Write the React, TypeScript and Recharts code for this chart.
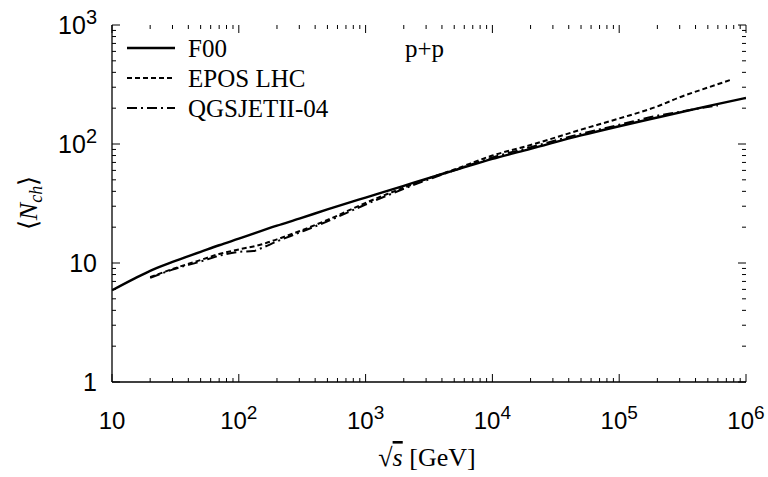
import { LineChart, Line, XAxis, YAxis } from "recharts";

// sqrt(s) [GeV] and <N_ch> for each model
const f00X = [10, 15, 20, 30, 50, 70, 100, 200, 300, 500, 1000, 2000, 3000, 5000, 1e4, 2e4, 5e4, 1e5, 2e5, 5e5, 1e6];
const f00Y = [5.9, 7.4, 8.6, 10.2, 12.4, 14.1, 16.0, 20.6, 23.6, 28.2, 35.5, 44.5, 51, 60, 75, 91, 118, 141, 167, 208, 244];

const eposX = [20, 30, 50, 70, 100, 150, 200, 300, 500, 1000, 2000, 3000, 5000, 1e4, 2e4, 5e4, 1e5, 2e5, 3e5, 5e5, 7.7e5];
const eposY = [7.6, 8.9, 10.6, 11.9, 13.0, 14.3, 15.8, 18.5, 23, 32, 43, 50.5, 61, 80, 98, 132, 164, 207, 247, 298, 348];

const qgsX = [20, 30, 50, 70, 100, 130, 150, 200, 300, 500, 1000, 2000, 3000, 5000, 1e4, 2e4, 5e4, 1e5, 2e5, 3e5, 4e5, 6e5];
const qgsY = [7.5, 8.8, 10.3, 11.5, 12.4, 12.6, 13.3, 15.2, 18.0, 22.4, 31, 42, 49.5, 60, 77, 94, 122, 145, 173, 186, 197, 211];

const xMajor = [10, 100, 1000, 1e4, 1e5, 1e6];
const xLabelExp = ["", "2", "3", "4", "5", "6"];
const yMajor = [1, 10, 100, 1000];
const yLabelExp = ["", "", "2", "3"];

const seriesNames = ["F00", "EPOS LHC", "QGSJETII-04"];

const W = 768;
const H = 477;
const TOP = 25;
const BOTTOM = 382;
const LEFT = 112;
const RIGHT = 746;

const SANS = "'Liberation Sans', Arial, sans-serif";
const SERIF = "'Liberation Serif', 'Times New Roman', serif";

function minorTicks(majors: number[]) {
  const out: number[] = [];
  for (let i = 0; i < majors.length - 1; i++) {
    for (let k = 2; k <= 9; k++) out.push(majors[i] * k);
  }
  return out;
}

const xTicks = [...xMajor, ...minorTicks(xMajor)];
const yTicks = [...yMajor, ...minorTicks(yMajor)];

const toPoints = (xs: number[], ys: number[]) => xs.map((x, i) => ({ x, y: ys[i] }));

function XTick(props: any) {
  const { x, payload } = props;
  const idx = xMajor.indexOf(payload.value);
  const len = idx >= 0 ? 8 : 4;
  return (
    <g>
      <line x1={x} x2={x} y1={BOTTOM} y2={BOTTOM - len} stroke="#000" strokeWidth={1} />
      <line x1={x} x2={x} y1={TOP} y2={TOP + len} stroke="#000" strokeWidth={1} />
      {idx >= 0 && (
        <text x={x} y={429} textAnchor="middle" fontFamily={SANS} fontSize={24} fill="#000">
          10
          {xLabelExp[idx] && (
            <tspan dy={-10} fontSize={19}>
              {xLabelExp[idx]}
            </tspan>
          )}
        </text>
      )}
    </g>
  );
}

function YTick(props: any) {
  const { y, payload } = props;
  const idx = yMajor.indexOf(payload.value);
  const len = idx >= 0 ? 8 : 4;
  let label: any = null;
  if (idx >= 0) {
    label = (
      <text x={97} y={y + 8.5} textAnchor="end" fontFamily={SANS} fontSize={25} fill="#000">
        {yLabelExp[idx] ? "10" : String(payload.value)}
        {yLabelExp[idx] && (
          <tspan dy={-10} fontSize={20}>
            {yLabelExp[idx]}
          </tspan>
        )}
      </text>
    );
  }
  return (
    <g>
      <line x1={LEFT} x2={LEFT + len} y1={y} y2={y} stroke="#000" strokeWidth={1} />
      <line x1={RIGHT} x2={RIGHT - len} y1={y} y2={y} stroke="#000" strokeWidth={1} />
      {label}
    </g>
  );
}

const dashes = ["", "5 3", "10 4 2 4"];

export default function App() {
  return (
    <div style={{ position: "absolute", left: 0, top: 0, width: W, height: H, background: "#fff" }}>
      <LineChart width={W} height={H} margin={{ top: TOP, right: W - RIGHT, left: 0, bottom: 0 }}>
        <XAxis
          dataKey="x"
          type="number"
          scale="log"
          domain={[10, 1e6]}
          allowDataOverflow
          ticks={xTicks}
          interval={0}
          height={H - BOTTOM}
          tickLine={false}
          axisLine={{ stroke: "#000", strokeWidth: 1.3 }}
          tick={<XTick />}
        />
        <XAxis
          xAxisId="top"
          orientation="top"
          type="number"
          scale="log"
          domain={[10, 1e6]}
          height={0}
          tick={false}
          tickLine={false}
          axisLine={{ stroke: "#000", strokeWidth: 1.3 }}
        />
        <YAxis
          dataKey="y"
          type="number"
          scale="log"
          domain={[1, 1000]}
          allowDataOverflow
          ticks={yTicks}
          interval={0}
          width={LEFT}
          tickLine={false}
          axisLine={{ stroke: "#000", strokeWidth: 1.3 }}
          tick={<YTick />}
        />
        <YAxis
          yAxisId="right"
          orientation="right"
          type="number"
          scale="log"
          domain={[1, 1000]}
          width={0}
          tick={false}
          tickLine={false}
          axisLine={{ stroke: "#000", strokeWidth: 1.3 }}
        />
        <Line
          data={toPoints(f00X, f00Y)}
          dataKey="y"
          name={seriesNames[0]}
          type="monotone"
          stroke="#000"
          strokeWidth={2.4}
          dot={false}
          isAnimationActive={false}
        />
        <Line
          data={toPoints(eposX, eposY)}
          dataKey="y"
          name={seriesNames[1]}
          type="monotone"
          stroke="#000"
          strokeWidth={2}
          strokeDasharray={dashes[1]}
          dot={false}
          isAnimationActive={false}
        />
        <Line
          data={toPoints(qgsX, qgsY)}
          dataKey="y"
          name={seriesNames[2]}
          type="monotone"
          stroke="#000"
          strokeWidth={2}
          strokeDasharray={dashes[2]}
          dot={false}
          isAnimationActive={false}
        />

        {/* legend */}
        <g>
          {seriesNames.map((n, i) => (
            <g key={n}>
              <line
                x1={127}
                x2={175}
                y1={48 + i * 30}
                y2={48 + i * 30}
                stroke="#000"
                strokeWidth={i === 0 ? 2.4 : 2}
                strokeDasharray={dashes[i]}
              />
              <text x={188} y={57 + i * 30} fontFamily={SERIF} fontSize={25} fill="#000">
                {n}
              </text>
            </g>
          ))}
          <text x={405} y={57} fontFamily={SERIF} fontSize={25} fill="#000">
            p+p
          </text>
        </g>

        {/* axis titles */}
        <text
          transform="translate(37, 203) rotate(-90)"
          textAnchor="middle"
          fontFamily={SERIF}
          fontSize={26}
          fill="#000"
        >
          ⟨<tspan fontStyle="italic">N</tspan>
          <tspan fontStyle="italic" fontSize={18} dy={5}>
            ch
          </tspan>
          <tspan dy={-5}>⟩</tspan>
        </text>
        <text x={427} y={466} textAnchor="middle" fontFamily={SERIF} fontSize={26} fill="#000">
          √<tspan fontStyle="italic" textDecoration="overline">s</tspan> [GeV]
        </text>
      </LineChart>
    </div>
  );
}
